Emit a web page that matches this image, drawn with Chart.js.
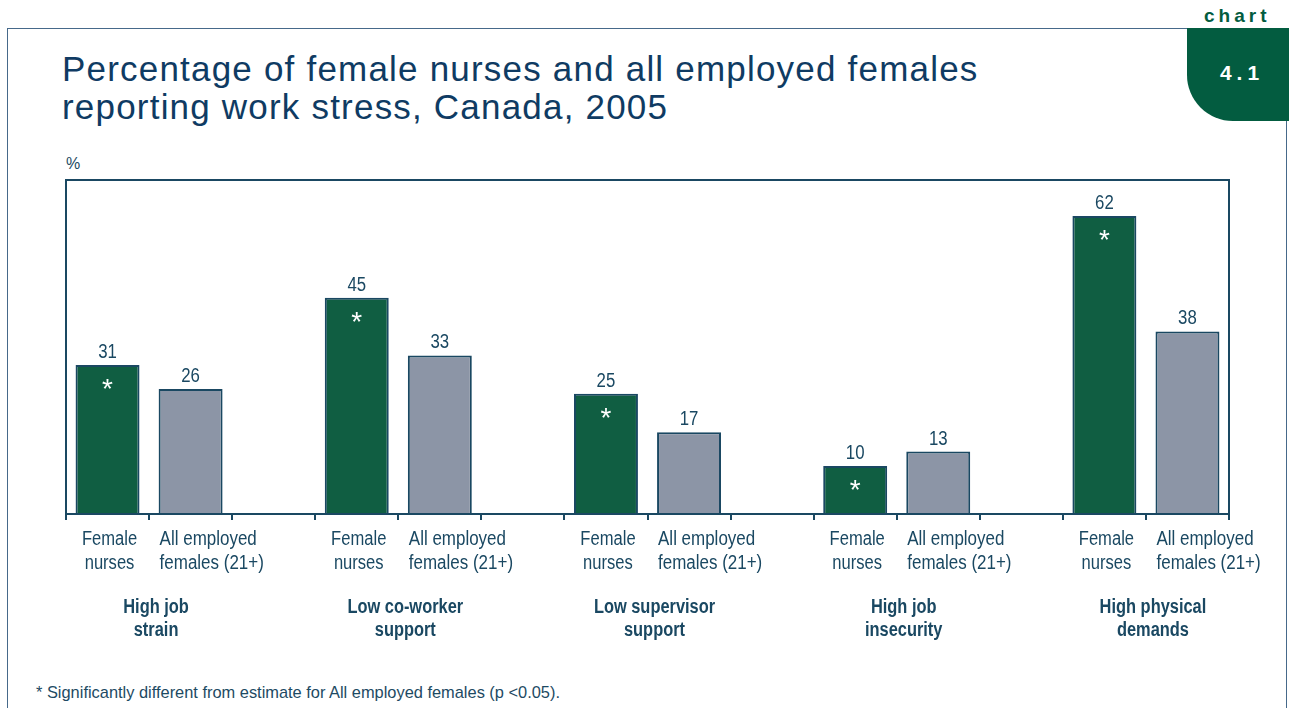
<!DOCTYPE html>
<html>
<head>
<meta charset="utf-8">
<script src="https://cdn.jsdelivr.net/npm/chart.js@4/dist/chart.umd.min.js"></script>
<style>
  html, body { margin: 0; padding: 0; background: #ffffff; }
  body { width: 1296px; height: 708px; position: relative; overflow: hidden; font-family: 'Liberation Sans', Arial, sans-serif; }
  .frame { position: absolute; left: 7px; top: 28px; width: 1280px; height: 700px; border: 1.5px solid #46698a; box-sizing: border-box; }
  .tab { position: absolute; left: 1187px; top: 28px; width: 102px; height: 93px; background: #035c40; border-bottom-left-radius: 46px; }
  .tab span { position: absolute; left: 0; right: 0; top: 33px; text-align: center; color: #ffffff; font: bold 21px 'Liberation Sans', Arial, sans-serif; letter-spacing: 5px; padding-left: 8px; }
  .chartword { position: absolute; left: 1204px; top: 5px; color: #035c40; font: bold 19px 'Liberation Sans', Arial, sans-serif; letter-spacing: 4px; }
  .title { position: absolute; left: 62px; top: 50px; color: #0f3b63; font-size: 35px; line-height: 38px; letter-spacing: 1.2px; }
  .pct { position: absolute; left: 66px; top: 155px; color: #1d4a63; font-size: 16px; }
  .note { position: absolute; left: 36px; top: 683px; color: #1d4a63; font-size: 16.4px; }
  canvas { position: absolute; left: 0; top: 0; }
</style>
</head>
<body>
<div class="frame"></div>
<div class="tab"><span>4.1</span></div>
<div class="chartword">chart</div>
<div class="title">Percentage of female nurses and all employed females<br>reporting work stress, Canada, 2005</div>
<div class="pct">%</div>
<div class="note">* Significantly different from estimate for All employed females (p &lt;0.05).</div>
<canvas id="c" width="1296" height="708"></canvas>
<script>
// Stress categories, each one a pair of bars
const groupNames = [
  ["High job", "strain"],
  ["Low co-worker", "support"],
  ["Low supervisor", "support"],
  ["High job", "insecurity"],
  ["High physical", "demands"]
];
const femaleNurses = [31, 45, 25, 10, 62];
const allEmployedFemales = [26, 33, 17, 13, 38];
// nurse estimate significantly different from all employed females
const significant = [true, true, true, true, true];
const barNames = [["Female", "nurses"], ["All employed", "females (21+)"]];
const yMax = 69.5;

const GREEN = '#105e42';
const GREY = '#8c95a6';
const NAVY = '#1a4862';
const SANS = "'Liberation Sans', Arial, sans-serif";

// Lay the groups out as slots: nurse, all employed, empty spacer
const slotLabels = [], slotValues = [], slotColors = [], slotStars = [], slotGroup = [], slotKind = [];
groupNames.forEach((g, i) => {
  slotLabels.push(barNames[0]); slotValues.push(femaleNurses[i]); slotColors.push(GREEN); slotStars.push(significant[i]); slotGroup.push(i); slotKind.push(0);
  slotLabels.push(barNames[1]); slotValues.push(allEmployedFemales[i]); slotColors.push(GREY); slotStars.push(false); slotGroup.push(i); slotKind.push(1);
  if (i < groupNames.length - 1) {
    slotLabels.push(''); slotValues.push(null); slotColors.push('rgba(0,0,0,0)'); slotStars.push(false); slotGroup.push(-1); slotKind.push(-1);
  }
});

// condensed-looking text: horizontally squeezed sans
function narrowText(ctx, text, x, y, font, sx, align) {
  ctx.save();
  ctx.translate(x, y);
  ctx.scale(sx, 1);
  ctx.font = font;
  ctx.textAlign = align;
  ctx.textBaseline = 'alphabetic';
  ctx.fillText(text, 0, 0);
  ctx.restore();
}

const annotate = {
  id: 'annotate',
  afterDatasetsDraw(chart) {
    const ctx = chart.ctx;
    const area = chart.chartArea;
    const xs = chart.scales.x;
    const meta = chart.getDatasetMeta(0);
    ctx.save();
    // plot box
    ctx.strokeStyle = NAVY;
    ctx.lineWidth = 2;
    ctx.strokeRect(area.left, area.top, area.right - area.left, area.bottom - area.top);
    ctx.fillStyle = NAVY;
    meta.data.forEach((bar, i) => {
      const v = slotValues[i];
      if (v === null) return;
      // value above the bar
      ctx.fillStyle = NAVY;
      narrowText(ctx, String(v), bar.x, bar.y - 7, '20px ' + SANS, 0.84, 'center');
      // significance star inside the bar
      if (slotStars[i]) {
        ctx.fillStyle = '#ffffff';
        narrowText(ctx, '*', bar.x, bar.y + 33, '28px ' + SANS, 1, 'center');
      }
      // bar name under the axis
      ctx.fillStyle = NAVY;
      const lines = slotLabels[i];
      lines.forEach((line, li) => {
        const yy = area.bottom + 31 + li * 24;
        if (slotKind[i] === 0) {
          narrowText(ctx, line, bar.x + 2, yy, '19.5px ' + SANS, 0.85, 'center');
        } else {
          narrowText(ctx, line, bar.x - bar.width / 2 + 1, yy, '19.5px ' + SANS, 0.87, 'left');
        }
      });
    });
    // category names under each pair
    groupNames.forEach((g, gi) => {
      const idx = slotGroup.indexOf(gi);
      const cx = (xs.getPixelForValue(idx) + xs.getPixelForValue(idx + 1)) / 2 + 7;
      g.forEach((line, li) => narrowText(ctx, line, cx, area.bottom + 99 + li * 23, 'bold 20px ' + SANS, 0.82, 'center'));
    });
    ctx.restore();
  }
};

new Chart(document.getElementById('c'), {
  type: 'bar',
  data: {
    labels: slotLabels,
    datasets: [{
      data: slotValues,
      backgroundColor: slotColors,
      borderColor: slotValues.map(v => v === null ? 'rgba(0,0,0,0)' : NAVY),
      borderWidth: 2,
      borderSkipped: 'bottom',
      categoryPercentage: 1,
      barPercentage: 0.77
    }]
  },
  options: {
    responsive: false,
    animation: false,
    layout: { padding: { left: 66, right: 67, top: 180, bottom: 0 } },
    plugins: { legend: { display: false }, tooltip: { enabled: false } },
    scales: {
      y: { display: false, min: 0, max: yMax },
      x: {
        afterFit(scale) { scale.height = 194; },
        border: { display: true, color: NAVY, width: 2 },
        grid: { offset: true, drawOnChartArea: false, drawTicks: true, tickLength: 6, color: NAVY, lineWidth: 2 },
        ticks: { display: false, autoSkip: false }
      }
    }
  },
  plugins: [annotate]
});
</script>
</body>
</html>
